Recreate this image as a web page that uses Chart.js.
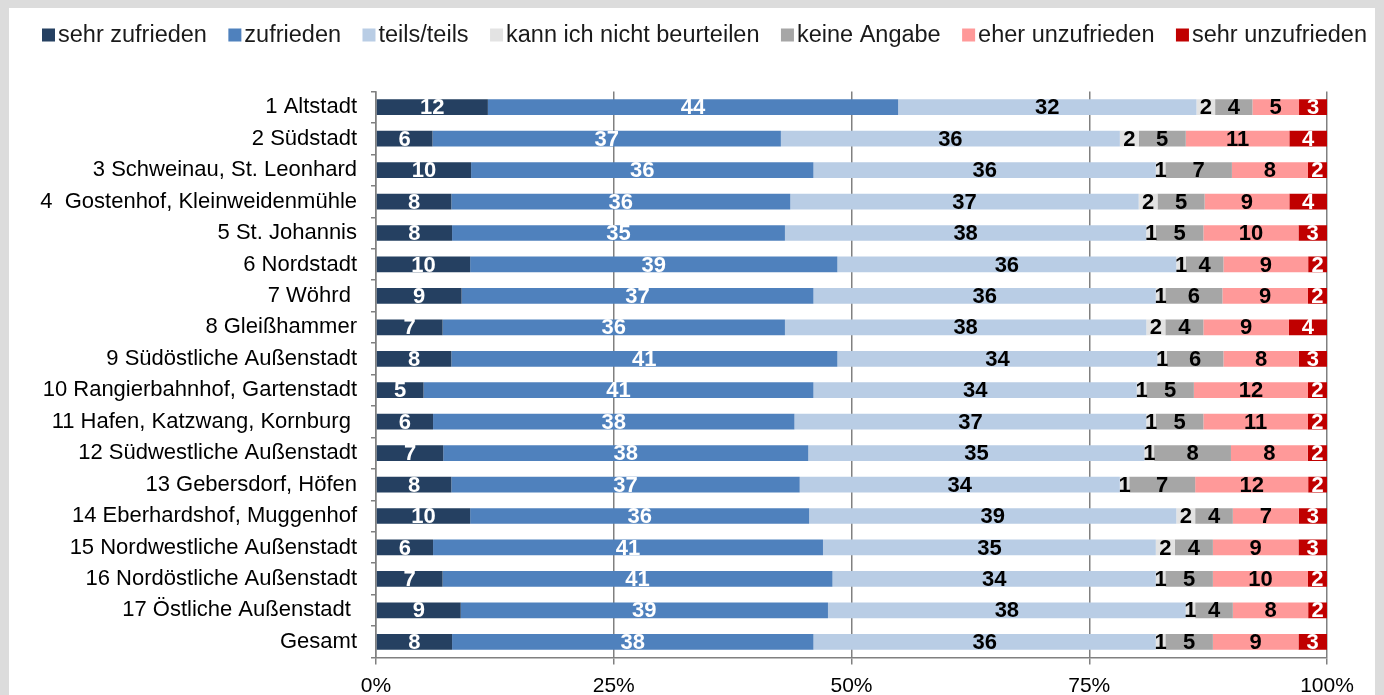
<!DOCTYPE html>
<html>
<head>
<meta charset="utf-8">
<script src="https://cdn.jsdelivr.net/npm/chart.js@4"></script>
<style>
  html, body { margin: 0; padding: 0; }
  body { background: #dcdcdc; width: 1384px; height: 695px; overflow: hidden; position: relative; }
  #box { position: absolute; left: 9px; top: 8px; width: 1366px; height: 687px; background: #fff; }
</style>
</head>
<body>
<div id="box"><canvas id="chart" width="1366" height="687"></canvas></div>
<script>
// districts, top to bottom
var categories = [
  "1 Altstadt", "2 Südstadt", "3 Schweinau, St. Leonhard", "4  Gostenhof, Kleinweidenmühle",
  "5 St. Johannis", "6 Nordstadt", "7 Wöhrd ", "8 Gleißhammer", "9 Südöstliche Außenstadt",
  "10 Rangierbahnhof, Gartenstadt", "11 Hafen, Katzwang, Kornburg ", "12 Südwestliche Außenstadt",
  "13 Gebersdorf, Höfen", "14 Eberhardshof, Muggenhof", "15 Nordwestliche Außenstadt",
  "16 Nordöstliche Außenstadt", "17 Östliche Außenstadt ", "Gesamt"
];

var seriesNames = ["sehr zufrieden", "zufrieden", "teils/teils", "kann ich nicht beurteilen",
  "keine Angabe", "eher unzufrieden", "sehr unzufrieden"];

// values in percent as printed on the bars
var sehrZufrieden   = [12, 6, 10, 8, 8, 10, 9, 7, 8, 5, 6, 7, 8, 10, 6, 7, 9, 8];
var zufrieden       = [44, 37, 36, 36, 35, 39, 37, 36, 41, 41, 38, 38, 37, 36, 41, 41, 39, 38];
var teilsTeils      = [32, 36, 36, 37, 38, 36, 36, 38, 34, 34, 37, 35, 34, 39, 35, 34, 38, 36];
var nichtBeurteilen = [2, 2, 1, 2, 1, 1, 1, 2, 1, 1, 1, 1, 1, 2, 2, 1, 1, 1];
var keineAngabe     = [4, 5, 7, 5, 5, 4, 6, 4, 6, 5, 5, 8, 7, 4, 4, 5, 4, 5];
var eherUnzufrieden = [5, 11, 8, 9, 10, 9, 9, 9, 8, 12, 11, 8, 12, 7, 9, 10, 8, 9];
var sehrUnzufrieden = [3, 4, 2, 4, 3, 2, 2, 4, 3, 2, 2, 2, 2, 3, 3, 2, 2, 3];

var xTicks = [0, 25, 50, 75, 100];

var colors = ["#254061", "#4f81bd", "#b9cde5", "#e3e3e3", "#a6a6a6", "#ff9999", "#c00000"];
var labelColors = ["#fff", "#fff", "#000", "#000", "#000", "#000", "#fff"];

var FONT = "'Liberation Sans', Arial, sans-serif";

var allSeries = [sehrZufrieden, zufrieden, teilsTeils, nichtBeurteilen, keineAngabe, eherUnzufrieden, sehrUnzufrieden];

// 100% stacked: scale each row to its total
var rowTotals = categories.map(function (c, i) {
  return allSeries.reduce(function (s, arr) { return s + arr[i]; }, 0);
});

var datasets = allSeries.map(function (arr, k) {
  return {
    label: seriesNames[k],
    data: arr.map(function (v, i) { return v / rowTotals[i] * 100; }),
    printed: arr,
    backgroundColor: colors[k],
    borderWidth: 0,
    barPercentage: 0.5,
    categoryPercentage: 1
  };
});

// numbers on the bar segments
var barLabels = {
  id: "barLabels",
  afterDatasetsDraw: function (chart) {
    var ctx = chart.ctx;
    ctx.save();
    ctx.font = "bold 22px " + FONT;
    ctx.textAlign = "center";
    ctx.textBaseline = "middle";
    chart.data.datasets.forEach(function (ds, k) {
      var meta = chart.getDatasetMeta(k);
      ctx.fillStyle = labelColors[k];
      meta.data.forEach(function (bar, i) {
        ctx.fillText(String(ds.printed[i]), (bar.x + bar.base) / 2, bar.y + 1);
      });
    });
    ctx.restore();
  }
};

// legend row across the top, small squares tight to the text
var topLegend = {
  id: "topLegend",
  afterDraw: function (chart) {
    var ctx = chart.ctx;
    ctx.save();
    ctx.font = "23.5px " + FONT;
    ctx.textBaseline = "middle";
    var box = 13, gapBox = 3;
    var left = 33, right = 1358; // canvas coords
    var widths = seriesNames.map(function (n) { return ctx.measureText(n).width; });
    var used = widths.reduce(function (s, w) { return s + w + box + gapBox; }, 0);
    var gapItem = (right - left - used) / (seriesNames.length - 1);
    var x = left;
    var y = 27;
    seriesNames.forEach(function (n, k) {
      ctx.fillStyle = colors[k];
      ctx.fillRect(x, y - box / 2, box, box);
      ctx.fillStyle = "#1a1a1a";
      ctx.fillText(n, x + box + gapBox, y + 1);
      x += box + gapBox + widths[k] + gapItem;
    });
    ctx.restore();
  }
};

new Chart("chart", {
  type: "bar",
  data: { labels: categories, datasets: datasets },
  options: {
    indexAxis: "y",
    responsive: false,
    animation: false,
    layout: { padding: { left: 0, right: 48, top: 83.5, bottom: 0 } },
    plugins: {
      legend: { display: false },
      tooltip: { enabled: false }
    },
    scales: {
      x: {
        stacked: true,
        min: 0,
        max: 100,
        afterBuildTicks: function (scale) {
          scale.ticks = xTicks.map(function (v) { return { value: v }; });
        },
        afterFit: function (scale) { scale.height = 37.5; },
        grid: { color: "#808080", lineWidth: 1.5, tickLength: 7 },
        border: { color: "#808080", width: 1.5 },
        ticks: {
          padding: 9,
          color: "#000",
          font: { family: FONT, size: 21 },
          maxRotation: 0,
          callback: function (v) { return v + "%"; }
        }
      },
      y: {
        stacked: true,
        afterFit: function (scale) { scale.width = 367; },
        grid: { drawOnChartArea: false, color: "#808080", lineWidth: 1.5, tickLength: 5, offset: true },
        border: { color: "#808080", width: 1.5 },
        ticks: {
          padding: 14,
          color: "#000",
          font: { family: FONT, size: 22 },
          autoSkip: false
        }
      }
    }
  },
  plugins: [barLabels, topLegend]
});
</script>
</body>
</html>
